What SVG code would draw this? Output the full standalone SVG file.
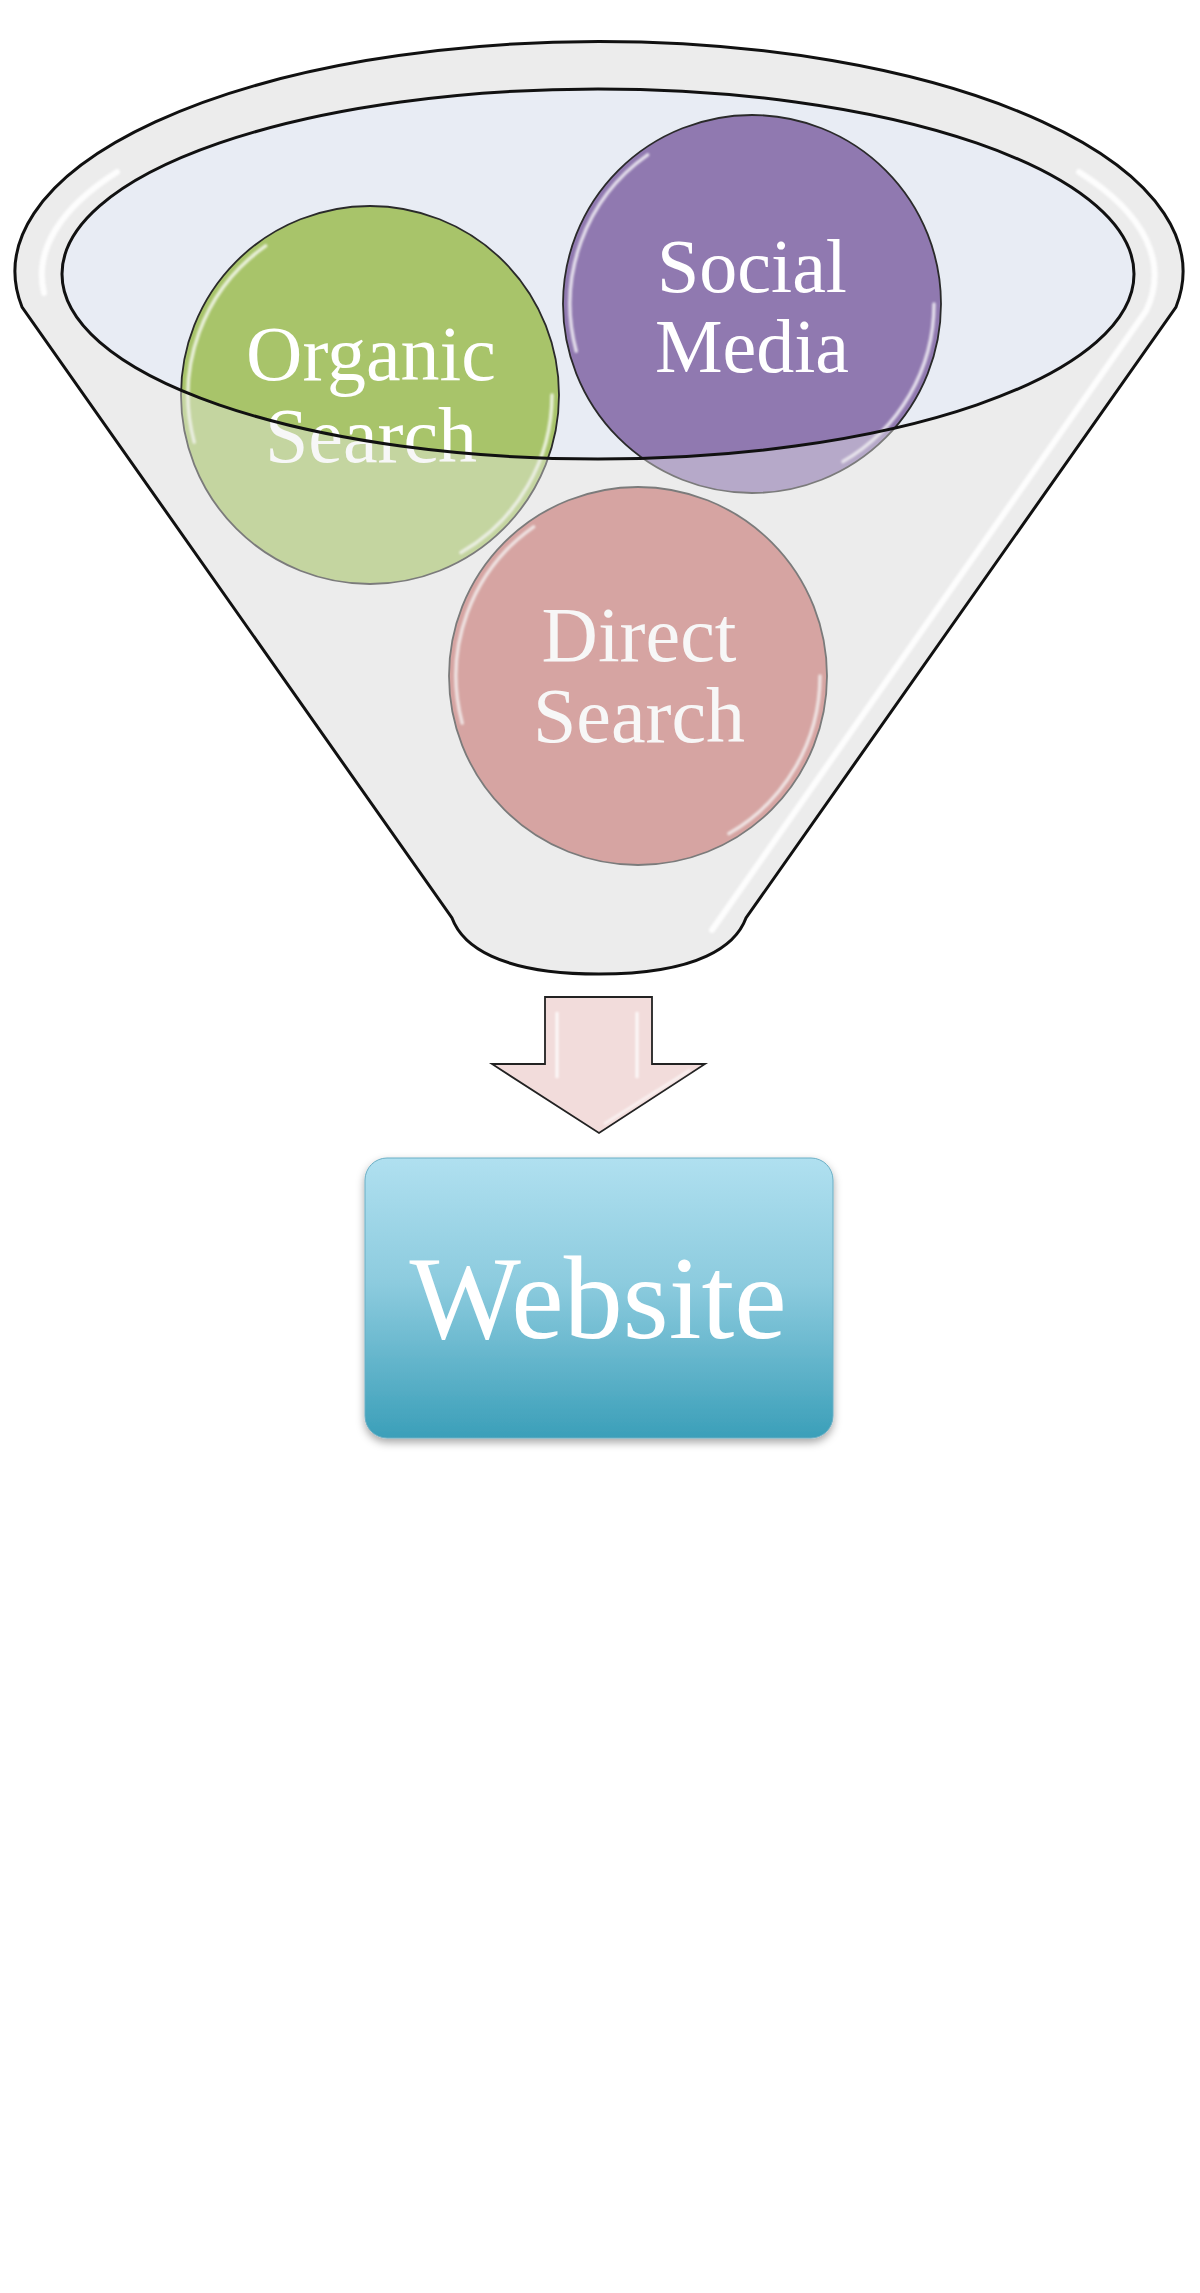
<svg xmlns="http://www.w3.org/2000/svg" width="1200" height="2293" viewBox="0 0 1200 2293">
<defs>
<style>
.outline{fill:none;stroke:#111;stroke-width:3}
.circ{stroke:#2a2a2a;stroke-width:1.8}
.gloss{fill:none;stroke:#fff;stroke-width:3.5;stroke-linecap:round;opacity:0.75;filter:url(#soft)}
.rimhl{fill:none;stroke:#fff;stroke-width:6;stroke-linecap:round;opacity:0.9;filter:url(#soft)}
.lbl{font-family:"Liberation Serif","DejaVu Serif",serif;fill:#fff;text-anchor:middle}
</style>
<filter id="soft" x="-10%" y="-10%" width="120%" height="120%"><feGaussianBlur stdDeviation="1.3"/></filter>
<filter id="shadow" x="-10%" y="-10%" width="120%" height="130%"><feDropShadow dx="0" dy="4" stdDeviation="4" flood-color="#000" flood-opacity="0.35"/></filter>
<linearGradient id="webgrad" x1="0" y1="0" x2="0" y2="1">
<stop offset="0" stop-color="#b0e0f0"/>
<stop offset="0.45" stop-color="#8ccbde"/>
<stop offset="1" stop-color="#3b9fb9"/>
</linearGradient>
</defs>

<rect width="1200" height="2293" fill="#fff"/>

<g id="funnel-back">
<path d="M 22 307 A 584 230 0 1 1 1176 307 L 746 918 C 736 945 700 974 599 974 C 498 974 462 945 452 918 Z" fill="#ececec"/>
<ellipse cx="598" cy="274" rx="536" ry="185" fill="#e8ecf4"/>
</g>

<g id="organic-search" transform="translate(370,395)">
<circle r="189" class="circ" fill="#a8c46a"/>
<path class="gloss" d="M -175.8 47.1 A 182 182 0 0 1 -104.4 -149.1"/>
<path class="gloss" d="M 182 0 A 182 182 0 0 1 91 157.6"/>
<text class="lbl" font-size="78" x="1" y="-15">Organic</text>
<text class="lbl" font-size="78" x="1" y="67">Search</text>
</g>

<g id="social-media" transform="translate(752,304)">
<circle r="189" class="circ" fill="#9079b0"/>
<path class="gloss" d="M -175.8 47.1 A 182 182 0 0 1 -104.4 -149.1"/>
<path class="gloss" d="M 182 0 A 182 182 0 0 1 91 157.6"/>
<text class="lbl" font-size="76" x="0" y="-12">Social</text>
<text class="lbl" font-size="76" x="0" y="68">Media</text>
</g>

<g id="direct-search" transform="translate(638,676)">
<circle r="189" class="circ" fill="#c6716d"/>
<path class="gloss" d="M -175.8 47.1 A 182 182 0 0 1 -104.4 -149.1"/>
<path class="gloss" d="M 182 0 A 182 182 0 0 1 91 157.6"/>
<text class="lbl" font-size="78" x="1" y="-15">Direct</text>
<text class="lbl" font-size="78" x="1" y="66">Search</text>
</g>

<g id="funnel-front">
<path d="M 22 307 A 584 230 0 1 1 1176 307 L 746 918 C 736 945 700 974 599 974 C 498 974 462 945 452 918 Z M 62 274 A 536 185 0 1 0 1134 274 A 536 185 0 1 0 62 274 Z" fill="#ececec" fill-opacity="0.42" fill-rule="evenodd"/>
<path class="rimhl" d="M 117 172 A 556 205 0 0 0 44 293"/>
<path class="rimhl" d="M 1079 172 A 556 205 0 0 1 1146 311 L 712 930"/>
<path class="outline" d="M 22 307 A 584 230 0 1 1 1176 307 L 746 918 C 736 945 700 974 599 974 C 498 974 462 945 452 918 Z"/>
<ellipse class="outline" cx="598" cy="274" rx="536" ry="185"/>
</g>

<g id="connectors">
<path d="M 545 997 L 652 997 L 652 1064 L 705 1064 L 599 1133 L 492 1064 L 545 1064 Z" fill="#f2dcdb" stroke="#222" stroke-width="1.8" stroke-linejoin="miter"/>
<path d="M 557 1012 L 557 1078 M 637 1012 L 637 1078" stroke="#fff" stroke-width="3" opacity="0.85" filter="url(#soft)"/>
<path d="M 690 1070 L 604 1124" stroke="#fff" stroke-width="2.5" opacity="0.7" filter="url(#soft)"/>
</g>

<g id="website">
<rect x="365" y="1158" width="468" height="280" rx="22" fill="url(#webgrad)" stroke="#6aaec4" stroke-width="1" filter="url(#shadow)"/>
<path d="M 388 1182 L 388 1412" stroke="#d8f6ff" stroke-width="5" stroke-linecap="round" opacity="0.9" filter="url(#soft)"/>
<path d="M 817 1182 L 817 1412" stroke="#d8f6ff" stroke-width="5" stroke-linecap="round" opacity="0.9" filter="url(#soft)"/>
<path d="M 392 1428 L 806 1428" stroke="#c8f0fa" stroke-width="3" stroke-linecap="round" opacity="0.6" filter="url(#soft)"/>
<text class="lbl" font-size="118" x="598" y="1338">Website</text>
</g>
</svg>
